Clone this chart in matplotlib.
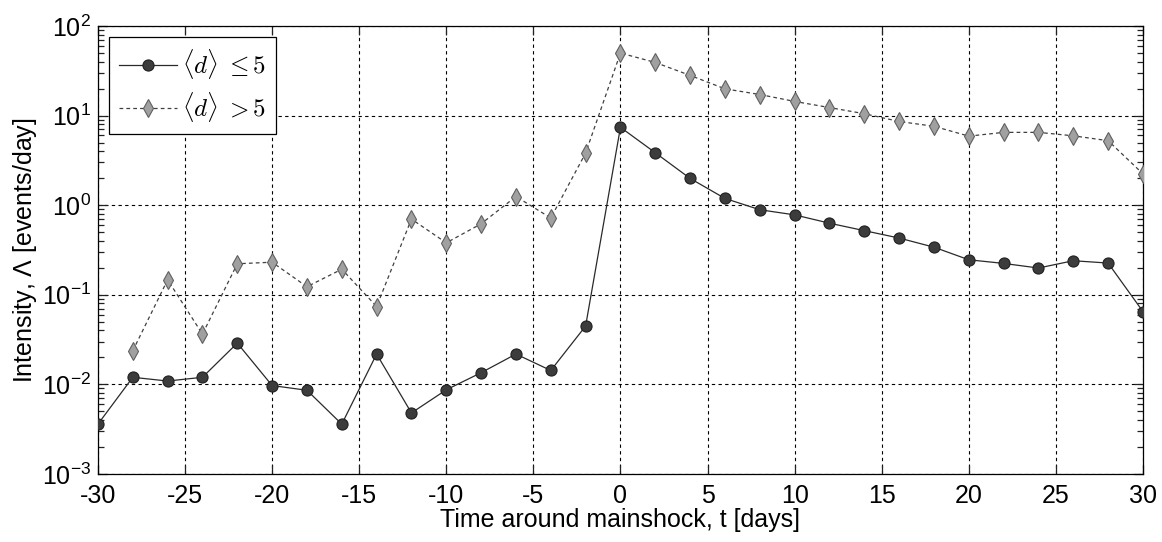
import numpy as np
import matplotlib
matplotlib.use('Agg')
import matplotlib.pyplot as plt
from matplotlib.font_manager import FontProperties
from matplotlib.ticker import FixedLocator, LogLocator, MultipleLocator, NullFormatter

plt.rcParams['font.family'] = ['Liberation Sans', 'DejaVu Sans']
plt.rcParams['mathtext.fontset'] = 'custom'
plt.rcParams['mathtext.rm'] = 'Liberation Sans'
plt.rcParams['mathtext.it'] = 'Liberation Sans:italic'
plt.rcParams['axes.unicode_minus'] = False

# days relative to the mainshock
t_small = np.arange(-30, 31, 2)
t_large = np.arange(-28, 31, 2)

# mean distance <d> <= 5
rate_small = [0.0036, 0.0120, 0.0109, 0.0120, 0.0289, 0.0097, 0.0086, 0.0036,
              0.0218, 0.0048, 0.0087, 0.0135, 0.0218, 0.0143, 0.0448,
              7.40, 3.85, 1.99, 1.19, 0.89, 0.78, 0.63, 0.52, 0.43, 0.34,
              0.246, 0.224, 0.199, 0.240, 0.226, 0.065]

# mean distance <d> > 5
rate_large = [0.0237, 0.147, 0.0364, 0.222, 0.231, 0.123, 0.193, 0.074,
              0.70, 0.38, 0.62, 1.25, 0.72, 3.82,
              49.9, 39.2, 28.1, 19.9, 17.2, 14.4, 12.3, 10.5, 8.6, 7.6,
              5.9, 6.5, 6.5, 5.95, 5.25, 2.24]

fig = plt.figure(figsize=(11.62, 5.42), dpi=100)
ax = fig.add_axes([0.0843, 0.1255, 0.8993, 0.8265])

ax.semilogy(t_small, rate_small, '-', color='#2a2a2a', lw=0.9,
            marker='o', ms=8, mfc='#3c3c3c', mec='#202020', mew=0.8,
            label=r'$\langle d\rangle\;\leq 5$', zorder=4)
ax.semilogy(t_large, rate_large, color='#404040', lw=0.9, ls=(0, (3, 2.5)),
            marker='d', ms=9, mfc='#a0a0a0', mec='#606060', mew=0.8,
            label=r'$\langle d\rangle\;> 5$', zorder=3)

ax.set_xlim(-30, 30)
ax.set_ylim(1e-3, 1e2)
ax.xaxis.set_major_locator(MultipleLocator(5))
ax.yaxis.set_major_locator(LogLocator(base=10, numticks=100))
minor_y = [m * 10.0**e for e in range(-3, 2) for m in range(2, 10)]
ax.yaxis.set_minor_locator(FixedLocator(minor_y))
ax.yaxis.set_minor_formatter(NullFormatter())

ax.grid(True, which='major', color='black', ls=(0, (3, 3)), lw=0.8)
ax.tick_params(which='both', direction='in', top=True, right=True,
               labelsize=18, color='#222222', labelcolor='black')
ax.tick_params(which='major', length=6.5, width=0.9)
ax.tick_params(which='minor', length=4.5, width=0.9)
ax.tick_params(axis='x', which='major', pad=7)
ax.tick_params(axis='y', which='major', pad=5)
for s in ax.spines.values():
    s.set_linewidth(0.9)

ax.set_xlabel('Time around mainshock, t [days]', fontsize=18, labelpad=0)
ax.set_ylabel(r'Intensity, $\mathit{\Lambda}$ [events/day]', fontsize=18, labelpad=2)

leg = ax.legend(loc='upper left', prop=FontProperties(size=18, math_fontfamily='cm'),
                fancybox=False, framealpha=1, edgecolor='black',
                borderaxespad=0.45, handlelength=2.3, handletextpad=0.2,
                borderpad=0.4, labelspacing=0.35)
leg.get_frame().set_linewidth(0.9)

fig.savefig('out.png', dpi=100)
